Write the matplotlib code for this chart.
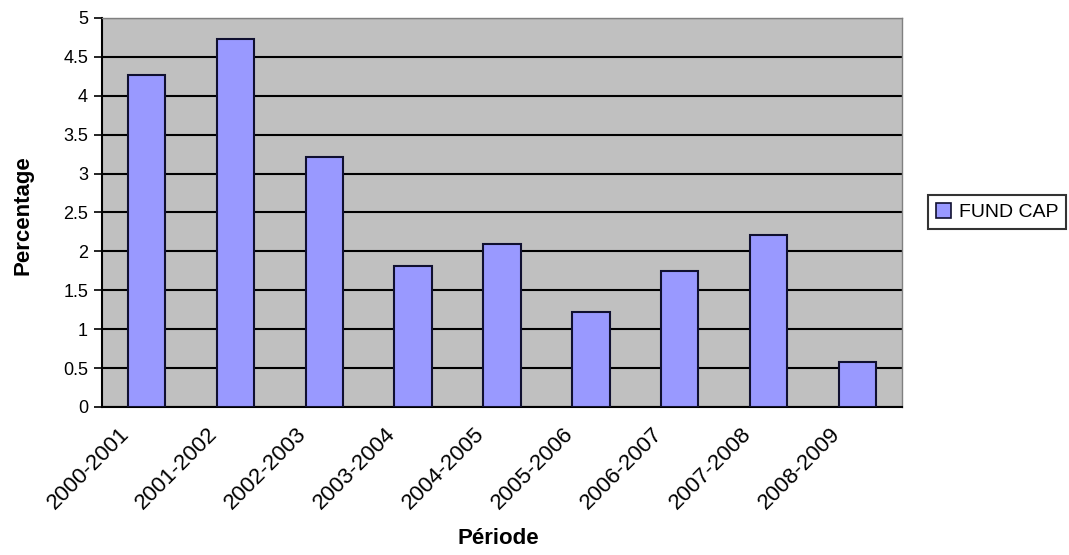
import matplotlib.pyplot as plt
from matplotlib.patches import Patch
import matplotlib.transforms as mtransforms
import numpy as np

# Data
periods = ['2000-2001', '2001-2002', '2002-2003', '2003-2004', '2004-2005',
           '2005-2006', '2006-2007', '2007-2008', '2008-2009']
fund_cap = [4.27, 4.73, 3.21, 1.81, 2.10, 1.22, 1.75, 2.21, 0.58]

plt.rcParams['font.family'] = ['Liberation Sans', 'DejaVu Sans']

fig = plt.figure(figsize=(10.69, 5.55), dpi=100)
ax = fig.add_axes([0.0954, 0.2667, 0.7484, 0.7009])

x = np.arange(len(periods))
ax.set_facecolor('#C0C0C0')
ax.bar(x, fund_cap, width=0.42, color='#9999FF', edgecolor='#101030',
       linewidth=1.5, zorder=3)

ax.set_xlim(-0.5, len(periods) - 0.5)
ax.set_ylim(0, 5)
ax.set_yticks(np.arange(0, 5.01, 0.5))
ax.set_yticklabels(['0', '0.5', '1', '1.5', '2', '2.5', '3', '3.5', '4', '4.5', '5'])
ax.yaxis.grid(True, color='black', linewidth=1.5, zorder=1)
ax.set_axisbelow(True)

ax.set_xticks(x)
ax.set_xticklabels(periods, rotation=45, ha='right', rotation_mode='anchor')
ax.tick_params(axis='x', length=0, pad=12, labelsize=16)
ax.tick_params(axis='y', length=6, width=1.2, labelsize=13, pad=4)

# shift the rotated labels left so they end just before the bar
shift = mtransforms.ScaledTranslation(-0.28, 0, fig.dpi_scale_trans)
for lbl in ax.get_xticklabels():
    lbl.set_transform(lbl.get_transform() + shift)

for side in ['left', 'bottom']:
    ax.spines[side].set_color('black')
    ax.spines[side].set_linewidth(1.5)
for side in ['top', 'right']:
    ax.spines[side].set_color('#808080')
    ax.spines[side].set_linewidth(1.0)

ax.set_ylabel('Percentage', fontsize=16, fontweight='bold', va='center')
ax.yaxis.set_label_coords(-0.099, 0.494)
ax.set_xlabel('Période', fontsize=16, fontweight='bold', va='center')
ax.xaxis.set_label_coords(0.495, -0.337)

handle = Patch(facecolor='#9999FF', edgecolor='#101030', linewidth=1.2)
leg = fig.legend([handle], ['FUND CAP'], loc='center left',
                 bbox_to_anchor=(0.859, 0.618), fontsize=14, frameon=True,
                 fancybox=False, edgecolor='black', handlelength=0.8,
                 handleheight=0.8, handletextpad=0.4, borderpad=0.4)
leg.get_frame().set_linewidth(1.5)

fig.savefig('out.png', dpi=100)
